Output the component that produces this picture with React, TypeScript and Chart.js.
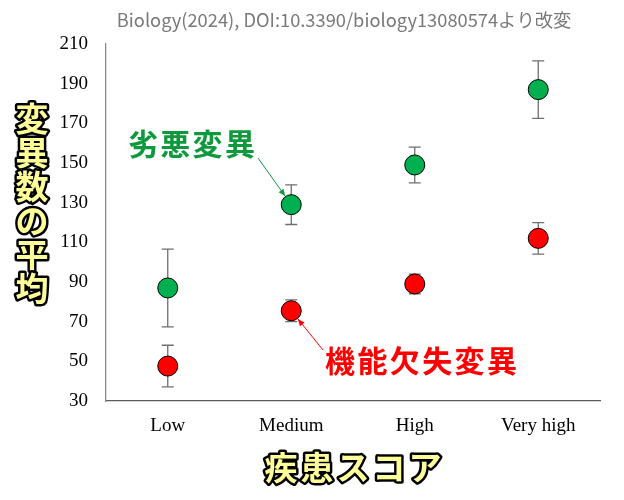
import React, { useEffect, useRef } from "react";
import { Chart, registerables } from "chart.js";

Chart.register(...registerables);

const categories = ["Low", "Medium", "High", "Very high"];
const deleteriousMeans = [87, 129, 149, 187];
const deleteriousErrors = [19.6, 10, 9, 14.5];
const lofMeans = [47.6, 75.5, 89, 112];
const lofErrors = [10.5, 5.5, 5, 7.9];
const yTicks = { min: 30, max: 210, step: 20 };

const titleText = "Biology(2024), DOI:10.3390/biology13080574より改変";
const yTitle = "変異数の平均";
const xTitle = "疾患スコア";
const greenLabel = "劣悪変異";
const redLabel = "機能欠失変異";

const JP = '"Noto Sans CJK JP", "Noto Sans", sans-serif';

function drawArrow(ctx: CanvasRenderingContext2D, x1: number, y1: number, x2: number, y2: number, color: string) {
  ctx.save();
  ctx.strokeStyle = color;
  ctx.fillStyle = color;
  ctx.lineWidth = 1;
  ctx.beginPath();
  ctx.moveTo(x1, y1);
  ctx.lineTo(x2, y2);
  ctx.stroke();
  const a = Math.atan2(y2 - y1, x2 - x1);
  const L = 7, W = 3;
  ctx.beginPath();
  ctx.moveTo(x2, y2);
  ctx.lineTo(x2 - L * Math.cos(a) + W * Math.sin(a), y2 - L * Math.sin(a) - W * Math.cos(a));
  ctx.lineTo(x2 - L * Math.cos(a) - W * Math.sin(a), y2 - L * Math.sin(a) + W * Math.cos(a));
  ctx.closePath();
  ctx.fill();
  ctx.restore();
}

function spacedText(ctx: CanvasRenderingContext2D, text: string, x: number, y: number, step: number) {
  const chars = Array.from(text);
  chars.forEach((c, i) => ctx.fillText(c, x + i * step, y));
}

const errorBarPlugin = {
  id: "errorBars",
  beforeDatasetsDraw(chart: any) {
    const ctx = chart.ctx;
    const ys = chart.scales.y;
    const errs = [deleteriousErrors, lofErrors];
    chart.data.datasets.forEach((ds: any, di: number) => {
      const meta = chart.getDatasetMeta(di);
      meta.data.forEach((pt: any, i: number) => {
        const v = ds.data[i];
        const e = errs[di][i];
        const top = ys.getPixelForValue(v + e);
        const bot = ys.getPixelForValue(v - e);
        const x = pt.x;
        ctx.save();
        ctx.strokeStyle = "#6f6f6f";
        ctx.lineWidth = 1.3;
        ctx.beginPath();
        ctx.moveTo(x, top);
        ctx.lineTo(x, bot);
        ctx.moveTo(x - 6, top);
        ctx.lineTo(x + 6, top);
        ctx.moveTo(x - 6, bot);
        ctx.lineTo(x + 6, bot);
        ctx.stroke();
        ctx.restore();
      });
    });
  },
};

const textPlugin = {
  id: "texts",
  afterDraw(chart: any) {
    const ctx: CanvasRenderingContext2D = chart.ctx;
    const area = chart.chartArea;
    ctx.save();
    // title
    ctx.font = `18.3px ${JP}`;
    ctx.fillStyle = "#7a7a7a";
    ctx.textAlign = "center";
    ctx.textBaseline = "middle";
    ctx.fillText(titleText, 344, 20);

    // y title vertical
    ctx.font = `bold 33px ${JP}`;
    ctx.textAlign = "center";
    ctx.textBaseline = "middle";
    ctx.lineJoin = "round";
    const yChars = Array.from(yTitle);
    yChars.forEach((c, i) => {
      const cy = 118 + i * 34;
      ctx.lineWidth = 5;
      ctx.strokeStyle = "#000";
      ctx.strokeText(c, 32, cy);
      ctx.fillStyle = "#FFFF99";
      ctx.fillText(c, 32, cy);
    });

    // x title
    ctx.font = `bold 33px ${JP}`;
    ctx.textAlign = "center";
    const xChars = Array.from(xTitle);
    const cx0 = (area.left + area.right) / 2 - ((xChars.length - 1) * 36) / 2;
    xChars.forEach((c, i) => {
      ctx.lineWidth = 5;
      ctx.strokeStyle = "#000";
      ctx.strokeText(c, cx0 + i * 36, 467);
      ctx.fillStyle = "#FFFF99";
      ctx.fillText(c, cx0 + i * 36, 467);
    });

    // annotations
    ctx.font = `bold 30px ${JP}`;
    ctx.textAlign = "left";
    ctx.fillStyle = "#0E9A3C";
    spacedText(ctx, greenLabel, 128, 144, 32.3);
    ctx.fillStyle = "#FF0000";
    spacedText(ctx, redLabel, 325, 361, 32.4);
    ctx.restore();

    const m0 = chart.getDatasetMeta(0).data[1];
    const m1 = chart.getDatasetMeta(1).data[1];
    const r = 10.5;
    {
      const sx = 258, sy = 158;
      const dx = m0.x - sx, dy = m0.y - sy, d = Math.hypot(dx, dy);
      drawArrow(ctx, sx, sy, m0.x - (dx / d) * r, m0.y - (dy / d) * r, "#0E9A3C");
    }
    {
      const sx = 323, sy = 350;
      const dx = m1.x - sx, dy = m1.y - sy, d = Math.hypot(dx, dy);
      drawArrow(ctx, sx, sy, m1.x - (dx / d) * r, m1.y - (dy / d) * r, "#FF0000");
    }
  },
};

export default function App() {
  const ref = useRef<HTMLCanvasElement | null>(null);
  useEffect(() => {
    if (!ref.current) return;
    const chart = new Chart(ref.current, {
      type: "line",
      data: {
        labels: categories,
        datasets: [
          {
            label: greenLabel,
            data: deleteriousMeans,
            showLine: false,
            pointRadius: 10,
            pointBackgroundColor: "#00B050",
            pointBorderColor: "#000",
            pointBorderWidth: 1,
            borderColor: "#000",
          },
          {
            label: redLabel,
            data: lofMeans,
            showLine: false,
            pointRadius: 10,
            pointBackgroundColor: "#FF0000",
            pointBorderColor: "#000",
            pointBorderWidth: 1,
            borderColor: "#000",
          },
        ],
      },
      options: {
        responsive: false,
        animation: false,
        layout: { padding: { top: 44, right: 24, left: 0, bottom: 0 } },
        plugins: { legend: { display: false }, tooltip: { enabled: false }, title: { display: false } },
        scales: {
          x: {
            offset: true,
            grid: { display: false, drawTicks: false },
            border: { display: true, color: "#5a5a5a", width: 1.3 },
            ticks: {
              color: "#000",
              padding: 14,
              font: { family: '"Liberation Serif", "Times New Roman", serif', size: 19 },
            },
            afterFit(scale: any) {
              scale.height = 99;
            },
          },
          y: {
            min: yTicks.min,
            max: yTicks.max,
            grid: { display: false, drawTicks: false },
            border: { display: true, color: "#8a8a8a", width: 1.3 },
            ticks: {
              stepSize: yTicks.step,
              color: "#000",
              padding: 18,
              font: { family: '"Liberation Serif", "Times New Roman", serif', size: 19 },
            },
            afterFit(scale: any) {
              scale.width = 106;
            },
          },
        },
      },
      plugins: [errorBarPlugin, textPlugin],
    });
    return () => chart.destroy();
  }, []);
  return (
    <div style={{ position: "fixed", left: 0, top: 0, width: 624, height: 500, background: "#fff" }}>
      <canvas ref={ref} width={624} height={500} />
    </div>
  );
}
